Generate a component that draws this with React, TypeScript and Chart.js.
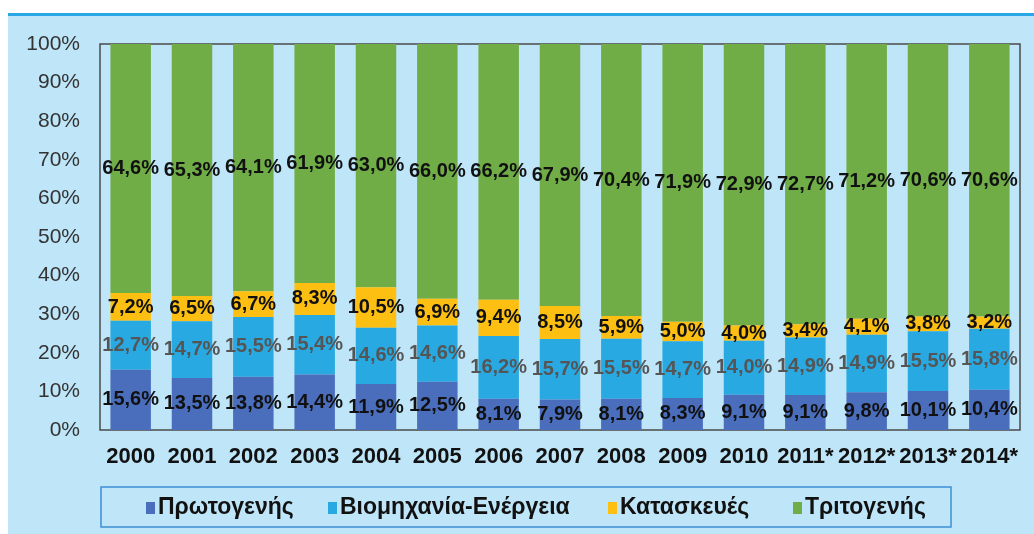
import React, { useEffect, useRef } from "react";
import { Chart, registerables } from "chart.js";

Chart.register(...registerables);

const years = ["2000", "2001", "2002", "2003", "2004", "2005", "2006", "2007", "2008", "2009", "2010", "2011*", "2012*", "2013*", "2014*"];
const primary = [15.6, 13.5, 13.8, 14.4, 11.9, 12.5, 8.1, 7.9, 8.1, 8.3, 9.1, 9.1, 9.8, 10.1, 10.4];
const industry = [12.7, 14.7, 15.5, 15.4, 14.6, 14.6, 16.2, 15.7, 15.5, 14.7, 14.0, 14.9, 14.9, 15.5, 15.8];
const construction = [7.2, 6.5, 6.7, 8.3, 10.5, 6.9, 9.4, 8.5, 5.9, 5.0, 4.0, 3.4, 4.1, 3.8, 3.2];
const tertiary = [64.6, 65.3, 64.1, 61.9, 63.0, 66.0, 66.2, 67.9, 70.4, 71.9, 72.9, 72.7, 71.2, 70.6, 70.6];
const seriesNames = ["Πρωτογενής", "Βιομηχανία-Ενέργεια", "Κατασκευές", "Τριτογενής"];
const seriesColors = ["#4A6EBC", "#29A9E1", "#FDC012", "#70AD47"];
const labelColors = ["#111111", "#555555", "#111111", "#111111"];
const yTickValues = [0, 10, 20, 30, 40, 50, 60, 70, 80, 90, 100];

const FONT = "'Liberation Sans', Arial, sans-serif";
const rawSeries = [primary, industry, construction, tertiary];
const totals = years.map((_, i) => rawSeries.reduce((s, arr) => s + arr[i], 0));
const fmt = (v: number) => v.toFixed(1).replace(".", ",") + "%";

const panelPlugin = {
  id: "panel",
  beforeDraw(chart: any) {
    const { ctx, width, height } = chart;
    ctx.save();
    ctx.fillStyle = "#ffffff";
    ctx.fillRect(0, 0, width, height);
    ctx.fillStyle = "#BEE5F8";
    ctx.fillRect(8, 16, width - 8, height - 16);
    ctx.fillStyle = "#2AA8E6";
    ctx.fillRect(8, 13, width - 8, 3);
    ctx.restore();
  },
};

const borderPlugin = {
  id: "plotBorder",
  beforeDatasetsDraw(chart: any) {
    const { ctx, chartArea } = chart;
    ctx.save();
    ctx.strokeStyle = "#4a4a4a";
    ctx.lineWidth = 1.5;
    ctx.strokeRect(chartArea.left, chartArea.top, chartArea.right - chartArea.left, chartArea.bottom - chartArea.top);
    ctx.restore();
  },
};

const labelPlugin = {
  id: "segLabels",
  afterDatasetsDraw(chart: any) {
    const { ctx } = chart;
    ctx.save();
    ctx.font = `bold 20px ${FONT}`;
    ctx.textAlign = "center";
    ctx.textBaseline = "middle";
    chart.data.datasets.forEach((ds: any, di: number) => {
      const meta = chart.getDatasetMeta(di);
      meta.data.forEach((el: any, i: number) => {
        const { x, y, base } = el.getProps(["x", "y", "base"], true);
        ctx.fillStyle = labelColors[di];
        ctx.fillText(fmt(rawSeries[di][i]), x, (y + base) / 2);
      });
    });
    ctx.restore();
  },
};

const legendPlugin = {
  id: "boxLegend",
  afterDraw(chart: any) {
    const { ctx } = chart;
    ctx.save();
    ctx.strokeStyle = "#3E8FD6";
    ctx.lineWidth = 1.5;
    ctx.strokeRect(101, 487, 850, 40);
    const xs = [146, 328, 608, 793];
    ctx.font = `bold 23px ${FONT}`;
    ctx.textBaseline = "middle";
    ctx.textAlign = "left";
    chart.data.datasets.forEach((ds: any, di: number) => {
      ctx.fillStyle = ds.backgroundColor;
      ctx.fillRect(xs[di], 502, 9, 12);
      ctx.fillStyle = "#111111";
      ctx.fillText(ds.label, xs[di] + 12, 508);
    });
    ctx.restore();
  },
};

export default function App() {
  const ref = useRef<HTMLCanvasElement | null>(null);
  useEffect(() => {
    if (!ref.current) return;
    const chart = new Chart(ref.current, {
      type: "bar",
      data: {
        labels: years,
        datasets: rawSeries.map((arr, di) => ({
          label: seriesNames[di],
          data: arr.map((v, i) => (v / totals[i]) * 100),
          backgroundColor: seriesColors[di],
          borderWidth: 0,
          barPercentage: 0.66,
          categoryPercentage: 1,
        })),
      },
      options: {
        responsive: false,
        animation: false,
        layout: { padding: { top: 44, right: 14, left: 0, bottom: 0 } },
        plugins: { legend: { display: false }, tooltip: { enabled: false } },
        scales: {
          x: {
            stacked: true,
            grid: { display: false, drawTicks: false },
            border: { display: false },
            ticks: { color: "#111111", font: { family: FONT, size: 22, weight: "bold" }, padding: 14, maxRotation: 0, autoSkip: false },
            afterFit(scale: any) {
              scale.height = 104;
            },
          },
          y: {
            stacked: true,
            min: 0,
            max: 100,
            grid: { display: false, drawTicks: false },
            border: { display: false },
            afterBuildTicks(scale: any) {
              scale.ticks = yTickValues.map((v) => ({ value: v }));
            },
            ticks: {
              color: "#333333",
              font: { family: FONT, size: 21 },
              padding: 20,
              callback: (v: any) => v + "%",
            },
            afterFit(scale: any) {
              scale.width = 100;
            },
          },
        },
      },
      plugins: [panelPlugin, borderPlugin, labelPlugin, legendPlugin],
    });
    return () => chart.destroy();
  }, []);
  return (
    <div style={{ position: "fixed", left: 0, top: 0, width: 1034, height: 534 }}>
      <canvas ref={ref} width={1034} height={534} style={{ display: "block" }} />
    </div>
  );
}
